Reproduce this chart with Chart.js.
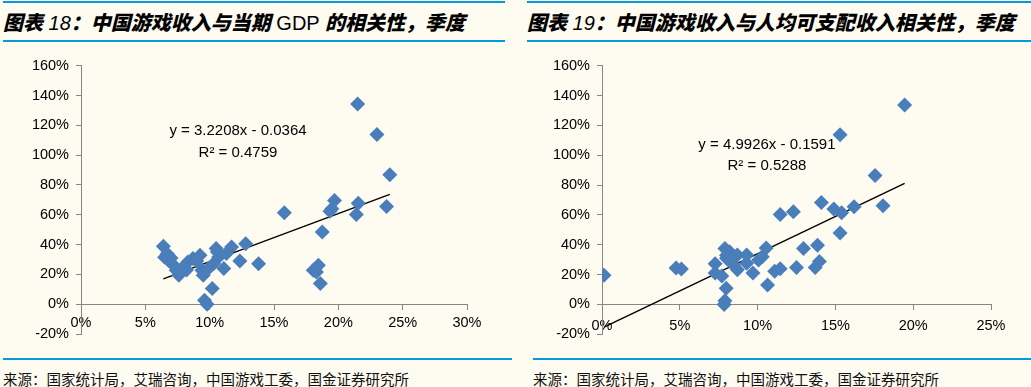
<!DOCTYPE html>
<html>
<head>
<meta charset="utf-8">
<script src="https://cdn.jsdelivr.net/npm/chart.js@4.4.0/dist/chart.umd.min.js"></script>
<style>
  body { margin: 0; background: #fefbf1; width: 1031px; height: 387px; position: relative; overflow: hidden; }
  .bar { position: absolute; height: 2px; background: #009ade; }
  .title { position: absolute; top: 7px; font-family: "Noto Sans CJK SC", sans-serif; font-weight: 900; font-style: italic; font-size: 20px; color: #000; white-space: nowrap; }
  .title .lat { font-family: "Liberation Sans", Arial, sans-serif; font-weight: normal; }
  .src { position: absolute; top: 368px; font-family: "Noto Sans CJK SC", sans-serif; font-size: 14.5px; color: #111; white-space: nowrap; }
  canvas { position: absolute; top: 50px; }
</style>
</head>
<body>
<div class="bar" style="left:3px;width:502px;top:1px"></div>
<div class="bar" style="left:3px;width:502px;top:40px"></div>
<div class="bar" style="left:527px;width:504px;top:1px"></div>
<div class="bar" style="left:527px;width:504px;top:40px"></div>
<div class="title" style="left:3px">图表<span class="lat"> 18</span>：中国游戏收入与当期<span class="lat" style="font-style:normal"> GDP </span>的相关性，季度</div>
<div class="title" style="left:527px">图表<span class="lat"> 19</span>：中国游戏收入与人均可支配收入相关性，季度</div>

<canvas id="chartGdp" width="515" height="300" style="left:0"></canvas>
<canvas id="chartIncome" width="516" height="300" style="left:515px"></canvas>

<div class="bar" style="left:3px;width:509px;top:358px"></div>
<div class="bar" style="left:533px;width:498px;top:358px"></div>
<div class="src" style="left:3px">来源：国家统计局，艾瑞咨询，中国游戏工委，国金证券研究所</div>
<div class="src" style="left:533px">来源：国家统计局，艾瑞咨询，中国游戏工委，国金证券研究所</div>

<script>
// chart 18: GDP growth (x, %) vs game revenue growth (y, %)
const gdpX = [6.4, 6.7, 6.5, 6.8, 7.0, 7.2, 7.4, 7.6, 7.95, 8.2, 8.3, 8.7, 9.0, 9.25, 9.4, 9.5,
  9.9, 10.3, 10.5, 10.6, 10.7, 11.1, 11.3, 11.7, 12.35, 12.8, 13.8, 10.2, 9.6, 9.8,
  15.8, 18.05, 18.3, 18.45, 18.6, 18.75, 19.35, 19.5, 19.7, 21.4, 21.55, 21.5, 23.0, 23.75, 24.0];
const gdpY = [38.8, 33.9, 31.5, 29.4, 31.0, 26.1, 22.8, 19.4, 25.0, 23.0, 28.3, 30.6, 29.0, 32.8, 22.8, 19.4,
  23.9, 27.2, 37.3, 35.0, 31.7, 23.9, 34.0, 38.4, 29.0, 40.6, 27.2, 10.5, 2.7, 0.0,
  61.4, 22.8, 21.6, 26.1, 13.9, 48.4, 62.4, 64.1, 69.6, 60.2, 67.8, 134.3, 113.8, 65.6, 86.8];
const gdpFit = { slope: 3.2208, icept: -0.0364, r2: 0.4759 };
const gdpXTicks = [0, 30];
const gdpLabelAt = { x: 12.2, y: 116 };

// chart 19: disposable income growth (x, %) vs game revenue growth (y, %)
const incX = [0.13, 4.76, 5.1, 7.27, 7.27, 7.7, 7.9, 7.98, 7.9, 7.85, 8.0, 8.0, 8.2, 8.45, 8.7, 8.7,
  9.3, 9.3, 9.7, 10.06, 10.3, 10.55, 10.64, 11.1, 11.45, 11.45, 12.3, 12.5, 12.95, 13.7,
  13.97, 13.85, 14.1, 14.9, 15.4, 15.3, 16.2, 17.55, 18.06, 15.3, 19.45];
const incY = [19.6, 24.4, 23.7, 27.2, 21.1, 19.0, 37.5, 10.9, 2.5, 0.0, 30.9, 33.0, 35.3, 26.5, 33.1, 23.3,
  33.1, 27.6, 21.1, 29.8, 32.0, 37.9, 13.1, 22.2, 23.9, 60.3, 62.1, 24.8, 37.5, 24.8,
  28.8, 39.6, 68.4, 64.0, 61.4, 47.9, 65.4, 86.5, 66.2, 113.7, 133.7];
const incFit = { slope: 4.9926, icept: -0.1591, r2: 0.5288 };
const incXTicks = [0, 25];
const incLabelAt = { x: 10.6, y: 107.2 };

const yTicks = [-20, 160];
const BLUE = "#4a7ebb";
const AXIS = "#868686";

Chart.defaults.font.family = '"Liberation Sans", Arial, sans-serif';
Chart.defaults.font.size = 14.5;
Chart.defaults.color = "#000";

function fitLine(xs, fit) {
  const lo = Math.min(...xs), hi = Math.max(...xs);
  return [lo, hi].map(x => ({ x, y: (fit.slope * x / 100 + fit.icept) * 100 }));
}

function makeChart(id, xs, ys, fit, xTicks, labelAt, yAxisW, pad, xPad) {
  const eqText = [
    "y = " + fit.slope.toFixed(4) + "x - " + Math.abs(fit.icept).toFixed(4),
    "R\u00b2 = " + fit.r2.toFixed(4)
  ];
  const eqPlugin = {
    id: "eq",
    afterDatasetsDraw(chart) {
      const { ctx, scales } = chart;
      const cx = scales.x.getPixelForValue(labelAt.x);
      const cy = scales.y.getPixelForValue(labelAt.y);
      ctx.save();
      ctx.font = '15px "Liberation Sans", Arial, sans-serif';
      ctx.fillStyle = "#000";
      ctx.textAlign = "center";
      ctx.textBaseline = "middle";
      ctx.fillText(eqText[0], cx, cy);
      ctx.fillText(eqText[1], cx, cy + 21.5);
      ctx.restore();
    }
  };

  return new Chart(document.getElementById(id), {
    data: {
      datasets: [
        {
          type: "scatter",
          data: xs.map((x, i) => ({ x, y: ys[i] })),
          backgroundColor: BLUE,
          borderColor: BLUE,
          pointStyle: "rectRot",
          pointRadius: 7.5,
          borderWidth: 0
        },
        {
          type: "line",
          data: fitLine(xs, fit),
          borderColor: "#000",
          borderWidth: 1.4,
          pointRadius: 0
        }
      ]
    },
    options: {
      responsive: false,
      animation: false,
      layout: { padding: pad },
      plugins: { legend: { display: false }, tooltip: { enabled: false } },
      scales: {
        x: {
          type: "linear",
          position: { y: 0 },
          min: xTicks[0], max: xTicks[1],
          ticks: { stepSize: 5, padding: xPad, callback: v => v + "%", maxRotation: 0 },
          grid: { drawOnChartArea: false, drawTicks: true, tickLength: 5, color: AXIS },
          border: { color: AXIS, width: 1 }
        },
        y: {
          type: "linear",
          min: yTicks[0], max: yTicks[1],
          ticks: { stepSize: 20, padding: 7, callback: v => v + "%" },
          grid: { drawOnChartArea: false, drawTicks: true, tickLength: 5, color: AXIS },
          border: { color: AXIS, width: 1 },
          afterFit: s => { s.width = yAxisW; }
        }
      }
    },
    plugins: [eqPlugin]
  });
}

makeChart("chartGdp", gdpX, gdpY, gdpFit, gdpXTicks, gdpLabelAt, 81, { top: 15, right: 48, bottom: 16, left: 0 }, 5);
makeChart("chartIncome", incX, incY, incFit, incXTicks, incLabelAt, 87, { top: 13, right: 40, bottom: 13, left: 0 }, 8);
</script>
</body>
</html>
